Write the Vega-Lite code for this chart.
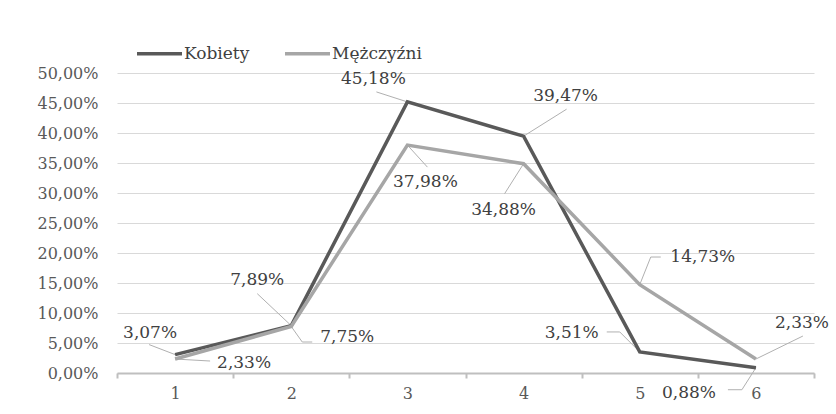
{
  "$schema": "https://vega.github.io/schema/vega-lite/v6.json",
  "width": 697,
  "height": 300,
  "autosize": {"type": "none"},
  "padding": {"left": 117, "top": 73, "right": 22, "bottom": 41},
  "background": "white",
  "config": {
    "locale": {"number": {"decimal": ",", "thousands": " ", "grouping": [3], "currency": ["", " zł"]}},
    "view": {"stroke": null},
    "text": {"font": "DejaVu Serif", "fontSize": 17, "color": "#404040", "align": "center", "baseline": "middle"},
    "rule": {"color": "#b0b0b0", "strokeWidth": 1}
  },
  "data": {
    "values": [
      {"kat": 1, "grupa": "Kobiety", "wartosc": 0.0307},
      {"kat": 2, "grupa": "Kobiety", "wartosc": 0.0789},
      {"kat": 3, "grupa": "Kobiety", "wartosc": 0.4518},
      {"kat": 4, "grupa": "Kobiety", "wartosc": 0.3947},
      {"kat": 5, "grupa": "Kobiety", "wartosc": 0.0351},
      {"kat": 6, "grupa": "Kobiety", "wartosc": 0.0088},
      {"kat": 1, "grupa": "Mężczyźni", "wartosc": 0.0233},
      {"kat": 2, "grupa": "Mężczyźni", "wartosc": 0.0775},
      {"kat": 3, "grupa": "Mężczyźni", "wartosc": 0.3798},
      {"kat": 4, "grupa": "Mężczyźni", "wartosc": 0.3488},
      {"kat": 5, "grupa": "Mężczyźni", "wartosc": 0.1473},
      {"kat": 6, "grupa": "Mężczyźni", "wartosc": 0.0233}
    ]
  },
  "encoding": {
    "x": {
      "field": "kat", "type": "ordinal",
      "scale": {"type": "band", "paddingInner": 0, "paddingOuter": 0},
      "axis": {
        "title": null, "labelAngle": 0, "tickBand": "extent", "grid": false,
        "domainColor": "#bfbfbf", "domainWidth": 2, "tickColor": "#bfbfbf", "tickWidth": 2, "tickSize": 5,
        "labelFont": "DejaVu Serif", "labelFontSize": 16, "labelColor": "#595959", "labelPadding": 7
      }
    },
    "y": {
      "field": "wartosc", "type": "quantitative",
      "scale": {"domain": [0, 0.5], "nice": false},
      "axis": {
        "title": null, "values": [0, 0.05, 0.1, 0.15, 0.2, 0.25, 0.3, 0.35, 0.4, 0.45, 0.5],
        "format": ".2%", "domain": false, "ticks": false, "labelPadding": 19,
        "grid": true, "gridColor": "#d9d9d9", "gridWidth": 1,
        "labelFont": "DejaVu Serif", "labelFontSize": 16, "labelColor": "#595959"
      }
    }
  },
  "layer": [
    {"transform": [{"filter": "datum.grupa == 'Kobiety' && datum.kat == 1"}],
     "layer": [
       {"mark": {"type": "rule", "x2Offset": -26, "y2Offset": -10}, "encoding": {"x2": {"field": "kat"}, "y2": {"field": "wartosc"}}},
       {"mark": {"type": "text", "dx": -25, "dy": -22}, "encoding": {"text": {"field": "wartosc", "type": "quantitative", "format": ".2%"}}}
     ]},
    {"transform": [{"filter": "datum.grupa == 'Mężczyźni' && datum.kat == 1"}],
     "layer": [
       {"mark": {"type": "rule", "x2Offset": 35, "y2Offset": 2}, "encoding": {"x2": {"field": "kat"}, "y2": {"field": "wartosc"}}},
       {"mark": {"type": "text", "dx": 69, "dy": 4}, "encoding": {"text": {"field": "wartosc", "type": "quantitative", "format": ".2%"}}}
     ]},
    {"transform": [{"filter": "datum.grupa == 'Kobiety' && datum.kat == 2"}],
     "layer": [
       {"mark": {"type": "rule", "x2Offset": -34, "y2Offset": -32}, "encoding": {"x2": {"field": "kat"}, "y2": {"field": "wartosc"}}},
       {"mark": {"type": "text", "dx": -34, "dy": -46}, "encoding": {"text": {"field": "wartosc", "type": "quantitative", "format": ".2%"}}}
     ]},
    {"transform": [{"filter": "datum.grupa == 'Mężczyźni' && datum.kat == 2"}],
     "layer": [
       {"mark": {"type": "rule", "x2Offset": 11, "y2Offset": 15.5}, "encoding": {"x2": {"field": "kat"}, "y2": {"field": "wartosc"}}},
       {"mark": {"type": "rule", "xOffset": 11, "yOffset": 15.5, "x2Offset": 21, "y2Offset": 15.5}, "encoding": {"x2": {"field": "kat"}, "y2": {"field": "wartosc"}}},
       {"mark": {"type": "text", "dx": 56, "dy": 10.5}, "encoding": {"text": {"field": "wartosc", "type": "quantitative", "format": ".2%"}}}
     ]},
    {"transform": [{"filter": "datum.grupa == 'Kobiety' && datum.kat == 3"}],
     "layer": [
       {"mark": {"type": "rule", "x2Offset": -31, "y2Offset": -10}, "encoding": {"x2": {"field": "kat"}, "y2": {"field": "wartosc"}}},
       {"mark": {"type": "text", "dx": -34, "dy": -23}, "encoding": {"text": {"field": "wartosc", "type": "quantitative", "format": ".2%"}}}
     ]},
    {"transform": [{"filter": "datum.grupa == 'Mężczyźni' && datum.kat == 3"}],
     "layer": [
       {"mark": {"type": "rule", "x2Offset": 20, "y2Offset": 22}, "encoding": {"x2": {"field": "kat"}, "y2": {"field": "wartosc"}}},
       {"mark": {"type": "text", "dx": 18, "dy": 37}, "encoding": {"text": {"field": "wartosc", "type": "quantitative", "format": ".2%"}}}
     ]},
    {"transform": [{"filter": "datum.grupa == 'Kobiety' && datum.kat == 4"}],
     "layer": [
       {"mark": {"type": "rule", "x2Offset": 43, "y2Offset": -27}, "encoding": {"x2": {"field": "kat"}, "y2": {"field": "wartosc"}}},
       {"mark": {"type": "text", "dx": 42, "dy": -40}, "encoding": {"text": {"field": "wartosc", "type": "quantitative", "format": ".2%"}}}
     ]},
    {"transform": [{"filter": "datum.grupa == 'Mężczyźni' && datum.kat == 4"}],
     "layer": [
       {"mark": {"type": "rule", "x2Offset": -19, "y2Offset": 30}, "encoding": {"x2": {"field": "kat"}, "y2": {"field": "wartosc"}}},
       {"mark": {"type": "text", "dx": -20, "dy": 46}, "encoding": {"text": {"field": "wartosc", "type": "quantitative", "format": ".2%"}}}
     ]},
    {"transform": [{"filter": "datum.grupa == 'Kobiety' && datum.kat == 5"}],
     "layer": [
       {"mark": {"type": "rule", "x2Offset": -20, "y2Offset": -20}, "encoding": {"x2": {"field": "kat"}, "y2": {"field": "wartosc"}}},
       {"mark": {"type": "rule", "xOffset": -20, "yOffset": -20, "x2Offset": -33, "y2Offset": -20}, "encoding": {"x2": {"field": "kat"}, "y2": {"field": "wartosc"}}},
       {"mark": {"type": "text", "dx": -68, "dy": -19}, "encoding": {"text": {"field": "wartosc", "type": "quantitative", "format": ".2%"}}}
     ]},
    {"transform": [{"filter": "datum.grupa == 'Mężczyźni' && datum.kat == 5"}],
     "layer": [
       {"mark": {"type": "rule", "x2Offset": 11, "y2Offset": -27.6}, "encoding": {"x2": {"field": "kat"}, "y2": {"field": "wartosc"}}},
       {"mark": {"type": "rule", "xOffset": 11, "yOffset": -27.6, "x2Offset": 21, "y2Offset": -27.6}, "encoding": {"x2": {"field": "kat"}, "y2": {"field": "wartosc"}}},
       {"mark": {"type": "text", "dx": 63, "dy": -27.6}, "encoding": {"text": {"field": "wartosc", "type": "quantitative", "format": ".2%"}}}
     ]},
    {"transform": [{"filter": "datum.grupa == 'Kobiety' && datum.kat == 6"}],
     "layer": [
       {"mark": {"type": "rule", "x2Offset": -14, "y2Offset": 22}, "encoding": {"x2": {"field": "kat"}, "y2": {"field": "wartosc"}}},
       {"mark": {"type": "rule", "xOffset": -14, "yOffset": 22, "x2Offset": -28, "y2Offset": 22}, "encoding": {"x2": {"field": "kat"}, "y2": {"field": "wartosc"}}},
       {"mark": {"type": "text", "dx": -67, "dy": 25}, "encoding": {"text": {"field": "wartosc", "type": "quantitative", "format": ".2%"}}}
     ]},
    {"transform": [{"filter": "datum.grupa == 'Mężczyźni' && datum.kat == 6"}],
     "layer": [
       {"mark": {"type": "rule", "x2Offset": 47, "y2Offset": -23}, "encoding": {"x2": {"field": "kat"}, "y2": {"field": "wartosc"}}},
       {"mark": {"type": "text", "dx": 46, "dy": -36}, "encoding": {"text": {"field": "wartosc", "type": "quantitative", "format": ".2%"}}}
     ]},
    {
      "mark": {"type": "line", "strokeWidth": 3.5, "strokeJoin": "miter"},
      "encoding": {
        "color": {
          "field": "grupa", "type": "nominal",
          "scale": {"domain": ["Kobiety", "Mężczyźni"], "range": ["#595959", "#a6a6a6"]},
          "legend": {
            "orient": "none", "legendX": 18, "legendY": -44, "direction": "horizontal", "title": null,
            "symbolType": "stroke", "symbolSize": 2025, "symbolStrokeWidth": 3.5,
            "labelFont": "DejaVu Serif", "labelFontSize": 17, "labelColor": "#404040",
            "labelOffset": 0, "columnPadding": 28
          }
        }
      }
    }
  ]
}
